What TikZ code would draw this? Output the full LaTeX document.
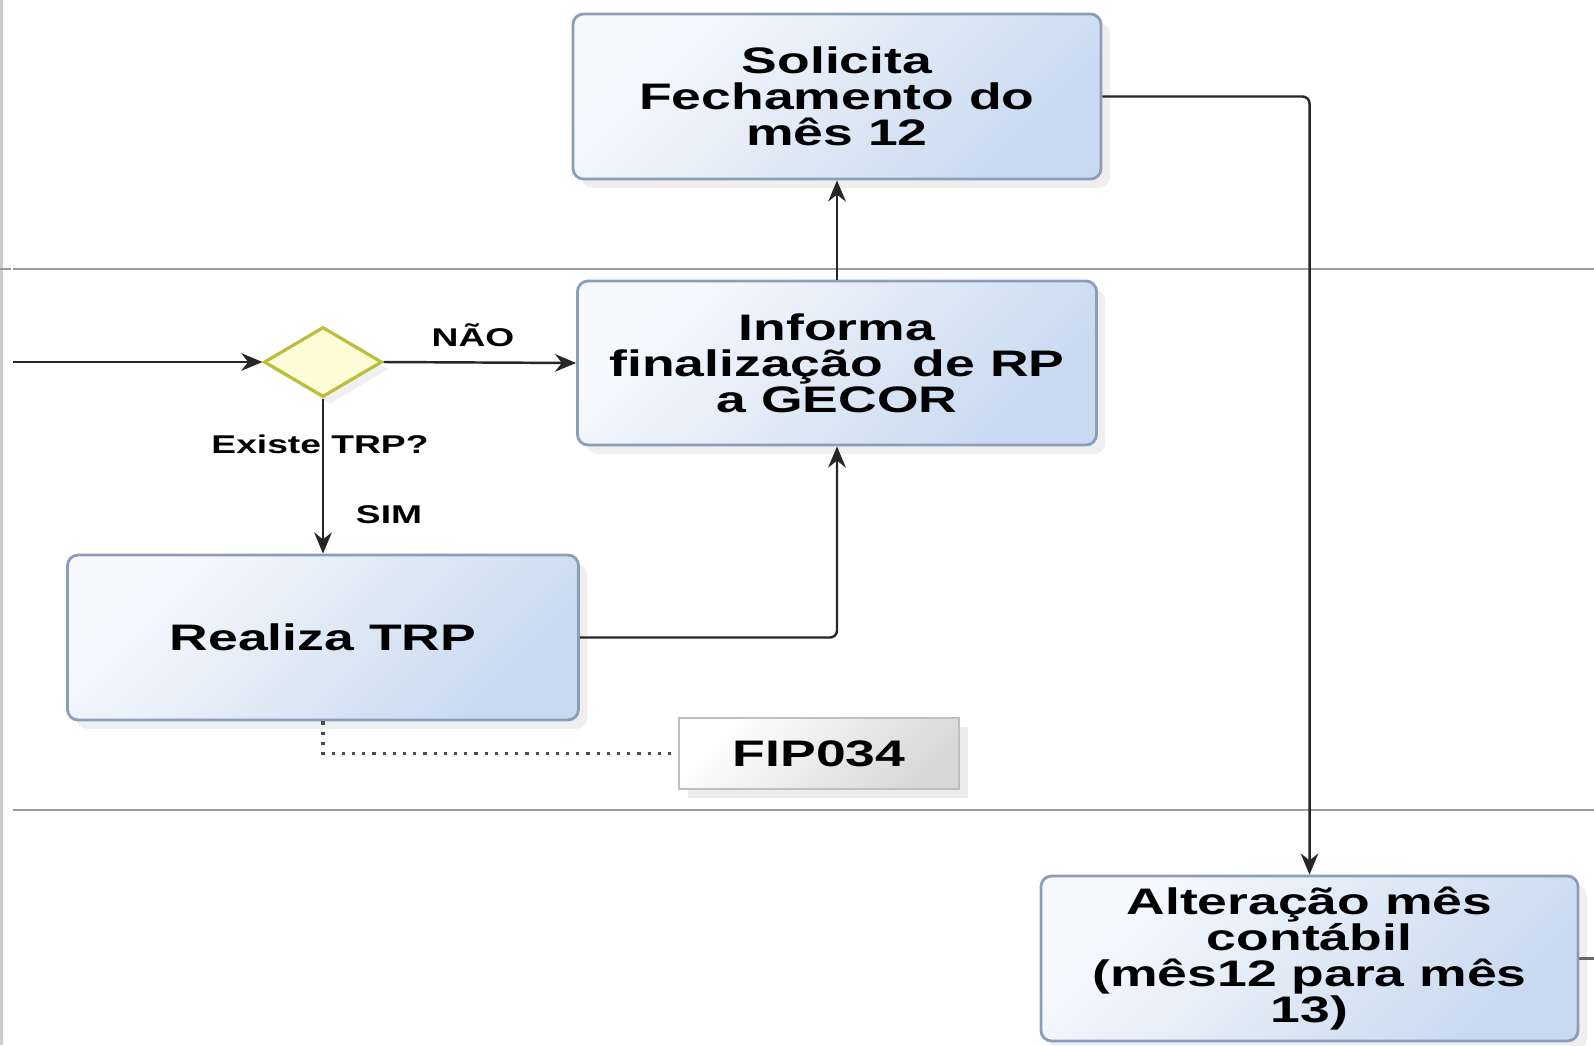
\documentclass[tikz,border=0pt]{standalone}
\usepackage{fontspec}
\setmainfont{Liberation Sans}[FakeStretch=1.45]
\usetikzlibrary{shapes.geometric,arrows.meta,shadows}

\definecolor{boxtop}{HTML}{F7FAFD}
\definecolor{boxbot}{HTML}{C8D9F0}
\definecolor{boxline}{HTML}{8A9EBB}
\definecolor{gateline}{HTML}{BDBD3C}
\definecolor{gatefill}{HTML}{FCFCD6}
\definecolor{docbot}{HTML}{D8D8D8}
\definecolor{laneline}{HTML}{9A9A9A}

\tikzset{
  task/.style={draw=boxline, line width=0.8pt, rounded corners=3pt,
    top color=boxtop, bottom color=boxbot, shading angle=45,
    drop shadow={opacity=0.13, shadow xshift=2.5pt, shadow yshift=-2.5pt},
    align=center, inner sep=0pt,
    font=\fontsize{10.5}{10.2}\selectfont\bfseries},
  gate/.style={diamond, draw=gateline, line width=0.9pt, fill=gatefill,
    minimum width=1.18cm, minimum height=0.70cm, inner sep=0pt,
    drop shadow={opacity=0.12, shadow xshift=2pt, shadow yshift=-2pt}},
  datadoc/.style={draw=black!25, line width=0.6pt,
    top color=white, bottom color=docbot, shading angle=45,
    drop shadow={opacity=0.15, shadow xshift=2.5pt, shadow yshift=-2.5pt},
    inner sep=0pt, font=\fontsize{10.5}{12}\selectfont\bfseries},
  flow/.style={-{Stealth[length=6pt,width=5pt]}, draw=black!85, line width=0.7pt, rounded corners=2pt},
  lbl/.style={inner sep=0pt, font=\fontsize{7.3}{8}\selectfont\bfseries},
  lane/.style={draw=laneline, line width=0.8pt}
}

\begin{document}
\begin{tikzpicture}
  \useasboundingbox (0,0) rectangle (15.94,-10.45);

  % raias
  \draw[draw=black!20, line width=1pt] (0.01,0) -- (0.01,-10.45);
  \draw[lane] (0,-2.69) -- (0.11,-2.69);
  \draw[lane] (0.13,-2.69) -- (15.94,-2.69);
  \draw[lane] (0.13,-8.10) -- (15.94,-8.10);

  \coordinate (entrada) at (0.13,-3.62);
  \coordinate (saida) at (15.94,-9.585);

  \node[task, minimum width=5.28cm, minimum height=1.65cm] (solicita) at (8.37,-0.965) {Solicita\\Fechamento do\\mês 12};
  \node[task, minimum width=5.19cm, minimum height=1.64cm] (informa) at (8.37,-3.63) {Informa\\finalização\ \ de RP\\a GECOR};
  \node[gate] (decisao) at (3.23,-3.62) {};
  \node[task, minimum width=5.11cm, minimum height=1.65cm] (realiza) at (3.23,-6.375) {Realiza TRP};
  \node[datadoc, minimum width=2.80cm, minimum height=0.71cm] (fip) at (8.19,-7.535) {FIP034};
  \node[task, minimum width=5.37cm, minimum height=1.65cm] (alteracao) at (13.095,-9.585) {Alteração mês\\contábil\\(mês12 para mês\\13)};

  \node[lbl] (nao) at (4.73,-3.35) {NÃO};
  \node[lbl] (existe) at (3.20,-4.44) {Existe TRP?};
  \node[lbl] (sim) at (3.89,-5.15) {SIM};

  \draw[flow] (entrada) -- (decisao.west);
  \draw[flow] (decisao.east) -- (informa.west);
  \draw[flow] (decisao.south) -- (realiza.north);
  \draw[flow] (realiza.east) -| (informa.south);
  \draw[flow] (informa.north) -- (solicita.south);
  \draw[flow] (solicita.east) -| (alteracao.north);
  \draw[draw=black!60, line width=0.6pt] (alteracao.east) -- (saida);

  \draw[dotted, draw=black!70, line width=0.9pt] (realiza.south) |- (fip.west);
\end{tikzpicture}
\end{document}
